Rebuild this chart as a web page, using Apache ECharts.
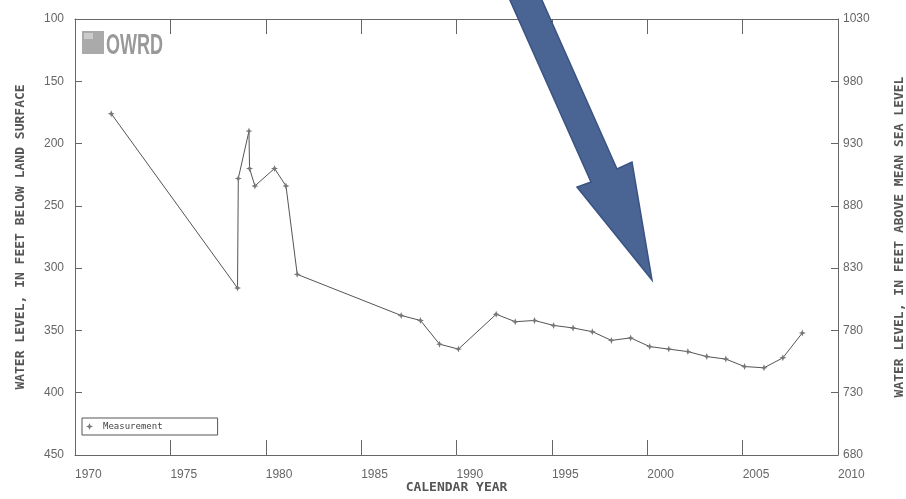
<!DOCTYPE html>
<html>
<head>
<meta charset="utf-8">
<script src="https://cdn.jsdelivr.net/npm/echarts@6/dist/echarts.min.js"></script>
<style>
html,body{margin:0;padding:0;background:#fff;overflow:hidden;width:906px;height:499px;}
#c{width:906px;height:499px;display:block;}
</style>
</head>
<body>
<div id="c"></div>
<script>
// Measurement dates (decimal years) and water level (feet below land surface)
const years = [1971.9, 1978.52, 1978.56, 1979.12, 1979.15, 1979.43, 1980.46, 1981.06, 1981.65,
  1987.10, 1988.11, 1989.11, 1990.10, 1992.08, 1993.08, 1994.09, 1995.09, 1996.11, 1997.12,
  1998.12, 1999.13, 2000.13, 2001.13, 2002.13, 2003.12, 2004.12, 2005.10, 2006.12, 2007.11, 2008.13];
const depths = [176, 316, 228, 190, 220, 234, 220, 234, 305,
  338, 342, 361, 365, 337, 343, 342, 346, 348, 351,
  358, 356, 363, 365, 367, 371, 373, 379, 380, 372, 352];
const landSurfaceElev = 1130;
const xMin = 1970, xMax = 2010, xStep = 5;
const yMin = 100, yMax = 450, yStep = 50;
const seriesName = 'Measurement';
const leftTitle = 'WATER LEVEL, IN FEET BELOW LAND SURFACE';
const rightTitle = 'WATER LEVEL, IN FEET ABOVE MEAN SEA LEVEL';
const xTitle = 'CALENDAR YEAR';

const data = years.map((y, i) => [y, depths[i]]);
const star = 'path://M0,-5 L1.4,-1.4 L5,0 L1.4,1.4 L0,5 L-1.4,1.4 L-5,0 L-1.4,-1.4Z';
const monoFont = "'DejaVu Sans Mono', monospace";
const axisCol = '#666';
const labelStyle = {color: '#666', fontFamily: "'Liberation Sans', Arial, sans-serif", fontSize: 12};

const chart = echarts.init(document.getElementById('c'), null, {renderer: 'canvas', width: 906, height: 499});
chart.setOption({
  backgroundColor: '#fff',
  animation: false,
  grid: {left: 75, right: 68, top: 19, bottom: 44, containLabel: false, outerBoundsMode: 'none'},
  legend: {
    left: 82, top: 418,
    orient: 'horizontal',
    data: [{name: seriesName, icon: star}],
    itemWidth: 7, itemHeight: 7, itemGap: 4,
    borderColor: '#555', borderWidth: 1, borderRadius: 0,
    padding: [4, 55, 4, 4],
    textStyle: {fontFamily: monoFont, fontSize: 9, color: '#444', padding: [0, 0, 0, 5]}
  },
  xAxis: [{
    type: 'value', position: 'bottom', min: xMin, max: xMax, interval: xStep,
    axisLine: {show: true, lineStyle: {color: axisCol, width: 1}},
    axisTick: {show: true, inside: true, length: 15, lineStyle: {color: axisCol}},
    splitLine: {show: false},
    axisLabel: Object.assign({margin: 14, align: 'left', formatter: v => String(v)}, labelStyle),
    name: xTitle, nameLocation: 'middle', nameGap: 26, nameMoveOverlap: false,
    nameTextStyle: {fontFamily: monoFont, fontWeight: 'bold', fontSize: 13, color: '#555'}
  }, {
    type: 'value', position: 'top', min: xMin, max: xMax, interval: xStep,
    axisLine: {show: true, lineStyle: {color: axisCol, width: 1}},
    axisTick: {show: true, inside: true, length: 15, lineStyle: {color: axisCol}},
    splitLine: {show: false},
    axisLabel: {show: false}
  }],
  yAxis: [{
    type: 'value', position: 'left', inverse: true, min: yMin, max: yMax, interval: yStep,
    axisLine: {show: true, lineStyle: {color: axisCol, width: 1}},
    axisTick: {show: true, inside: true, length: 7, lineStyle: {color: axisCol}},
    splitLine: {show: false},
    axisLabel: Object.assign({margin: 11}, labelStyle),
    name: leftTitle, nameLocation: 'middle', nameGap: 48, nameRotate: 90,
    nameTextStyle: {fontFamily: monoFont, fontWeight: 'bold', fontSize: 13, color: '#555'}
  }, {
    type: 'value', position: 'right', inverse: true, min: yMin, max: yMax, interval: yStep,
    axisLine: {show: true, lineStyle: {color: axisCol, width: 1}},
    axisTick: {show: true, inside: true, length: 7, lineStyle: {color: axisCol}},
    splitLine: {show: false},
    axisLabel: Object.assign({margin: 5, formatter: v => String(landSurfaceElev - v)}, labelStyle),
    name: rightTitle, nameLocation: 'middle', nameGap: 55, nameRotate: 90,
    nameTextStyle: {fontFamily: monoFont, fontWeight: 'bold', fontSize: 13, color: '#555'}
  }],
  series: [{
    name: seriesName,
    type: 'line',
    xAxisIndex: 0, yAxisIndex: 0,
    data: data,
    symbol: star, symbolSize: 7,
    showAllSymbol: true,
    lineStyle: {color: '#555', width: 1},
    itemStyle: {color: '#777'}
  }],
  graphic: [
    {type: 'rect', left: 82, top: 31, shape: {width: 22, height: 23}, style: {fill: '#aaa'}, z: 10},
    {type: 'rect', left: 84, top: 33, shape: {width: 9, height: 6}, style: {fill: '#ccc'}, z: 11},
    {type: 'text', left: 106, top: 31, scaleX: 0.62, style: {text: 'OWRD', fill: '#999',
      font: "bold 29px 'Liberation Sans', Arial, sans-serif"}, z: 10},
    {type: 'polygon', shape: {points: [[509, -2], [591, 182], [577, 187], [652, 280], [632, 162], [617, 169], [541, -2]]},
      style: {fill: '#4a6593', stroke: '#3a5382', lineWidth: 1.5}, z: 20}
  ]
});
</script>
</body>
</html>
